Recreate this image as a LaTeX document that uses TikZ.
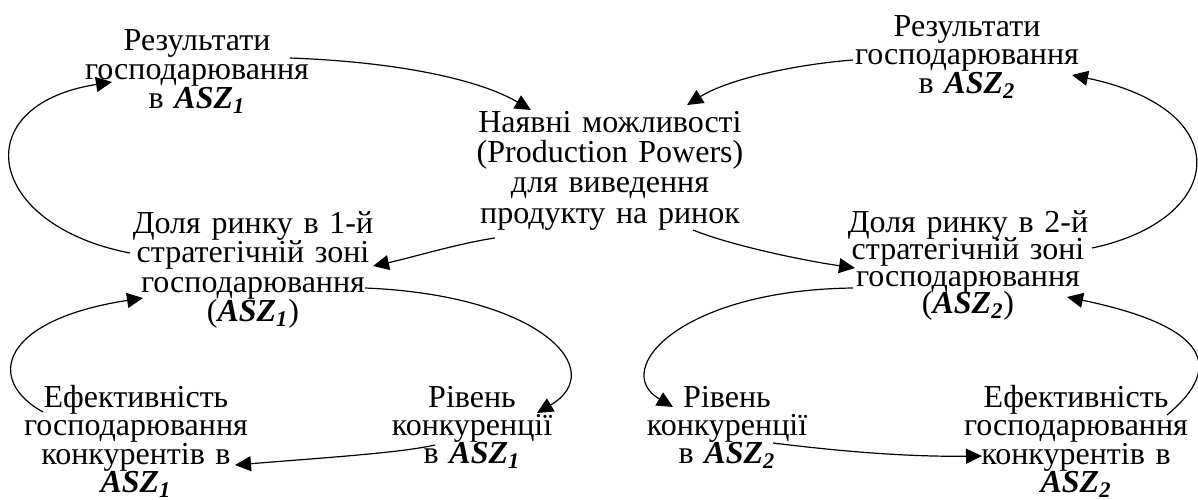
\documentclass[tikz,border=0pt]{standalone}
\usepackage{fontspec}
\setmainfont{Liberation Serif}
\usetikzlibrary{arrows.meta}
% bold italic zone label with its index
\newcommand\asz[1]{\textbf{\textit{ASZ\textsubscript{#1}}}}

\begin{document}
\begin{tikzpicture}[x=0.5pt,y=-0.5pt,
  lbl/.style={anchor=base,inner sep=0pt,text width=170pt,align=center,
    font={\fontsize{16}{#1}\selectfont\lineskiplimit=-100pt}},
  lbl/.default=14.5,
  link/.style={line width=0.6pt,-{Triangle[length=8pt,width=7.5pt]}}]
\useasboundingbox (0,0) rectangle (1198,499);

% text blocks
\node[lbl=14.5]  (res1) at (197,50)    {Результати\\господарювання\\в \asz{1}};
\node[lbl=14.25] (res2) at (967,36)    {Результати\\господарювання\\в \asz{2}};
\node[lbl=15.1]  (nav)  at (610,132.5) {Наявні можливості\\(Production Powers)\\для виведення\\продукту на ринок};
\node[lbl=14.75] (dol1) at (253,233)   {Доля ринку в 1-й\\стратегічній зоні\\господарювання\\(\asz{1})};
\node[lbl=13.5]  (dol2) at (968,232)   {Доля ринку в 2-й\\стратегічній зоні\\господарювання\\(\asz{2})};
\node[lbl=14.25] (ef1)  at (136,407)   {Ефективність\\господарювання\\конкурентів в\\\asz{1}};
\node[lbl=14]    (riv1) at (472,407)   {Рівень\\конкуренції\\в \asz{1}};
\node[lbl=14]    (riv2) at (727,407)   {Рівень\\конкуренції\\в \asz{2}};
\node[lbl=14.25] (ef2)  at (1076,407)  {Ефективність\\господарювання\\конкурентів в\\\asz{2}};

% upper links to the central block
\draw[link] ([shift={(93,8)}]res1.base) .. controls (400,62) and (480,80) .. ([shift={(-79,-22.5)}]nav.base);
\draw[link] ([shift={(-114,24)}]res2.base) .. controls (800,64) and (730,78) .. ([shift={(77,-27.5)}]nav.base);
\draw[link] ([shift={(83,97.5)}]nav.base) .. controls (730,245) and (800,260) .. ([shift={(-113,36)}]dol2.base);
\draw[link] ([shift={(-115,105.5)}]nav.base) .. controls (460,243) and (410,258) .. ([shift={(120,33)}]dol1.base);

% left loops
\draw[link] ([shift={(-123,20)}]dol1.base) .. controls (-15,225) and (-35,105) .. ([shift={(-85,32)}]res1.base);
\draw[link] ([shift={(112,55)}]dol1.base) .. controls (540,295) and (610,370) .. ([shift={(65,6)}]riv1.base);
\draw[link] ([shift={(-37,38)}]riv1.base) .. controls (400,453) and (320,458) .. ([shift={(99,58)}]ef1.base);
\draw[link] ([shift={(-93,5)}]ef1.base) .. controls (-15,380) and (0,320) .. ([shift={(-110,65)}]dol1.base);

% right loops
\draw[link] ([shift={(124,16)}]dol2.base) .. controls (1225,220) and (1240,110) .. ([shift={(105,39)}]res2.base);
\draw[link] ([shift={(-115,56)}]dol2.base) .. controls (680,290) and (610,370) .. ([shift={(-54,0)}]riv2.base);
\draw[link] ([shift={(46,36)}]riv2.base) .. controls (830,450) and (900,457) .. ([shift={(-94,49)}]ef2.base);
\draw[link] ([shift={(91,8)}]ef2.base) .. controls (1215,375) and (1225,330) .. ([shift={(99,65)}]dol2.base);
\end{tikzpicture}
\end{document}
